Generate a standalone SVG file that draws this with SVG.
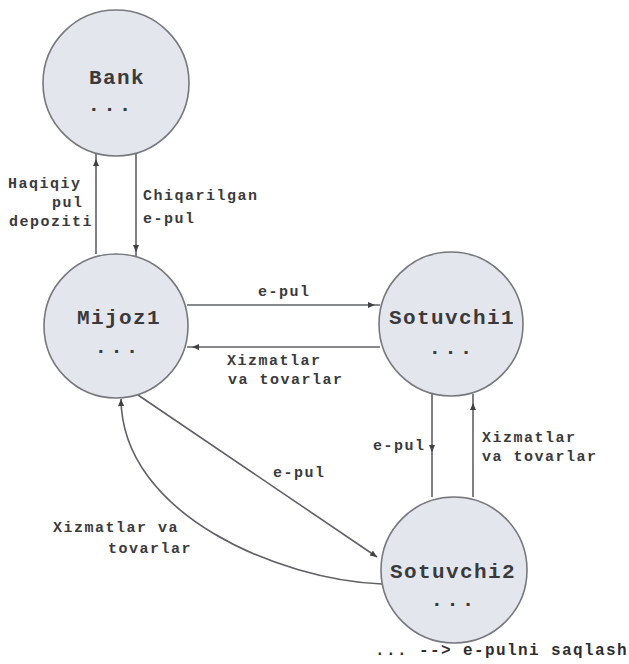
<svg xmlns="http://www.w3.org/2000/svg" width="629" height="664" viewBox="0 0 629 664">
  <style>
    .node { fill: #e4e6ee; stroke: #77787e; stroke-width: 1.6; }
    .title { font-family: "Liberation Mono", "DejaVu Sans Mono", monospace; font-weight: bold; font-size: 21px; letter-spacing: 1.4px; fill: #3a3a3c; text-anchor: middle; }
    .dots { font-family: "Liberation Mono", "DejaVu Sans Mono", monospace; font-weight: bold; font-size: 21px; letter-spacing: 3px; fill: #3a3a3c; text-anchor: middle; }
    .lbl { font-family: "Liberation Mono", "DejaVu Sans Mono", monospace; font-weight: bold; font-size: 15px; letter-spacing: 1.5px; fill: #3a3a3c; }
    .edge { fill: none; stroke: #5f6066; stroke-width: 1.6; }
    .note { font-family: "Liberation Mono", "DejaVu Sans Mono", monospace; font-weight: bold; font-size: 16px; letter-spacing: 1.4px; fill: #2e2e30; }
  </style>
  <defs>
    <marker id="arrow" markerUnits="userSpaceOnUse" markerWidth="8" markerHeight="7" refX="7" refY="3" orient="auto">
      <path d="M0,0 L7,3 L0,6 z" fill="#404045"/>
    </marker>
  </defs>
  <rect width="629" height="664" fill="#ffffff"/>

  <!-- connectors -->
  <g id="connectors">
    <!-- Mijoz1 -> Bank : Haqiqiy pul depoziti -->
    <path class="edge" d="M96,254 L96,159 L96,153" marker-mid="url(#arrow)"/>
    <!-- Bank -> Mijoz1 : Chiqarilgan e-pul -->
    <path class="edge" d="M136,153 L136,252 L136,256" marker-mid="url(#arrow)"/>
    <!-- Mijoz1 -> Sotuvchi1 : e-pul -->
    <path class="edge" d="M187,305 L375,305 L380,305" marker-mid="url(#arrow)"/>
    <!-- Sotuvchi1 -> Mijoz1 : Xizmatlar va tovarlar -->
    <path class="edge" d="M380,347 L192,347 L187,347" marker-mid="url(#arrow)"/>
    <!-- Sotuvchi2 -> Sotuvchi1 : Xizmatlar va tovarlar -->
    <path class="edge" d="M473,497 L473,403 L473,394" marker-mid="url(#arrow)"/>
    <!-- Sotuvchi1 -> Sotuvchi2 : e-pul -->
    <path class="edge" d="M432,394 L432,452 L432,497" marker-mid="url(#arrow)"/>
    <!-- Mijoz1 -> Sotuvchi2 : e-pul -->
    <path class="edge" d="M138,395 L377,557" marker-end="url(#arrow)"/>
    <!-- Sotuvchi2 -> Mijoz1 : Xizmatlar va tovarlar -->
    <path class="edge" d="M382,584 C280,580 122,515 121,399" marker-end="url(#arrow)"/>
  </g>

  <!-- edge labels -->
  <g id="edge-labels">
    <text class="lbl" x="8" y="188">Haqiqiy</text>
    <text class="lbl" x="52" y="207">pul</text>
    <text class="lbl" x="9" y="226">depoziti</text>
    <text class="lbl" x="143" y="200">Chiqarilgan</text>
    <text class="lbl" x="143" y="223">e-pul</text>
    <text class="lbl" x="258" y="296">e-pul</text>
    <text class="lbl" x="227" y="365">Xizmatlar</text>
    <text class="lbl" x="228" y="384">va tovarlar</text>
    <text class="lbl" x="482" y="442">Xizmatlar</text>
    <text class="lbl" x="482" y="461">va tovarlar</text>
    <text class="lbl" x="373" y="450">e-pul</text>
    <text class="lbl" x="273" y="477">e-pul</text>
    <text class="lbl" x="53" y="532">Xizmatlar va</text>
    <text class="lbl" x="108" y="553">tovarlar</text>
  </g>

  <!-- nodes -->
  <g id="bank">
    <circle class="node" cx="116" cy="83" r="73"/>
    <text class="title" x="117" y="84">Bank</text>
    <text class="dots" x="111" y="111">...</text>
  </g>
  <g id="mijoz1">
    <circle class="node" cx="116" cy="326" r="72"/>
    <text class="title" x="119" y="324">Mijoz1</text>
    <text class="dots" x="118" y="353">...</text>
  </g>
  <g id="sotuvchi1">
    <circle class="node" cx="451" cy="324" r="72"/>
    <text class="title" x="452" y="324">Sotuvchi1</text>
    <text class="dots" x="452" y="354">...</text>
  </g>
  <g id="sotuvchi2">
    <circle class="node" cx="454" cy="570" r="73"/>
    <text class="title" x="453" y="578">Sotuvchi2</text>
    <text class="dots" x="454" y="606">...</text>
  </g>

  <!-- legend -->
  <text class="note" x="375" y="655">... --&gt; e-pulni saqlash</text>
</svg>
